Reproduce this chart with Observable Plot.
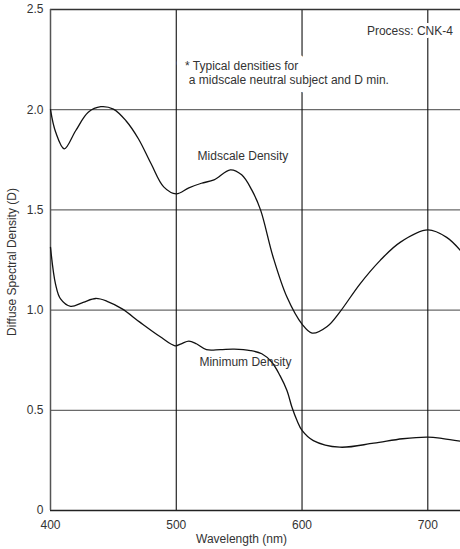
<!DOCTYPE html>
<html>
<head>
<meta charset="utf-8">
<script src="https://cdn.jsdelivr.net/npm/d3@7"></script>
<script src="https://cdn.jsdelivr.net/npm/@observablehq/plot@0.6"></script>
<style>
  html, body { margin: 0; padding: 0; background: #fff; }
  #chart { width: 460px; height: 549px; }
</style>
</head>
<body>
<div id="chart"></div>
<script>
// Midscale density curve (wavelength nm, density D)
const midWavelength = [400, 404, 411, 420, 430, 440, 450, 460, 470, 480, 490, 500, 510, 520, 530, 543, 552, 560, 567, 577, 588, 600, 608, 620, 630, 646, 662, 678, 700, 715, 726];
const midDensity    = [2.0, 1.89, 1.805, 1.895, 1.987, 2.015, 2.003, 1.945, 1.854, 1.73, 1.615, 1.58, 1.61, 1.633, 1.65, 1.70, 1.675, 1.60, 1.50, 1.265, 1.065, 0.93, 0.885, 0.918, 0.99, 1.13, 1.247, 1.338, 1.40, 1.363, 1.297];

// Minimum density curve
const minWavelength = [400, 404, 408, 416, 426, 436, 445, 457, 471, 487, 499, 504, 510, 516, 524, 535, 546, 559, 568, 576, 582.5, 588, 592, 596, 600, 609, 630, 657, 680, 700, 712, 726];
const minDensity    = [1.313, 1.13, 1.056, 1.019, 1.039, 1.058, 1.044, 1.006, 0.94, 0.868, 0.822, 0.832, 0.845, 0.832, 0.803, 0.803, 0.805, 0.798, 0.782, 0.74, 0.673, 0.599, 0.515, 0.449, 0.40, 0.349, 0.316, 0.336, 0.358, 0.366, 0.359, 0.346];

// Axes
const xTicks = [400, 500, 600, 700];
const yTicks = [0, 0.5, 1.0, 1.5, 2.0, 2.5];
const yGrid = [0.5, 1.0, 1.5, 2.0];
const xGrid = [500, 600, 700];
const xDomain = [400, 726];
const yDomain = [0, 2.5];
const xLabel = "Wavelength (nm)";
const yLabel = "Diffuse Spectral Density (D)";

// Curve labels
const curveLabels = ["Midscale Density", "Minimum Density"];
const curveLabelX = [553, 555];
const curveLabelY = [1.77, 0.74];

// Notes
const noteText = ["* Typical densities for", "a midscale neutral subject and D min."];
const noteX = [507, 510];
const noteY = [2.215, 2.145];
const processText = "Process: CNK-4";
const processX = 720;
const processY = 2.39;

const mid = midWavelength.map((w, i) => ({w, d: midDensity[i]}));
const mn = minWavelength.map((w, i) => ({w, d: minDensity[i]}));
const labels = curveLabels.map((t, i) => ({t, x: curveLabelX[i], y: curveLabelY[i]}));
const notes = noteText.map((t, i) => ({t, x: noteX[i], y: noteY[i]}));

const chart = Plot.plot({
  width: 460,
  height: 549,
  marginLeft: 50,
  marginRight: 0,
  marginTop: 9,
  marginBottom: 39,
  style: {fontFamily: "'Liberation Sans', Arial, sans-serif", fontSize: "12px", color: "#333", background: "#fff"},
  x: {domain: xDomain},
  y: {domain: yDomain},
  marks: [
    Plot.ruleY(yGrid, {stroke: "#6a6a6a", strokeWidth: 1.2}),
    Plot.ruleX(xGrid, {stroke: "#111", strokeWidth: 1.1}),
    Plot.ruleY([2.5], {stroke: "#333", strokeWidth: 1.3}),
    Plot.ruleY([0], {stroke: "#222", strokeWidth: 1.5}),
    Plot.ruleX([400], {stroke: "#555", strokeWidth: 1.5}),
    // white halos behind the notes
    Plot.text(notes, {x: "x", y: "y", text: "t", textAnchor: "start", fill: "white", stroke: "white", strokeWidth: 16, fontSize: 12}),
    Plot.text([processText], {x: processX, y: processY, text: d => d, textAnchor: "end", fill: "white", stroke: "white", strokeWidth: 6, fontSize: 12}),
    Plot.text(notes, {x: "x", y: "y", text: "t", textAnchor: "start", fill: "#333", fontSize: 12}),
    Plot.text([processText], {x: processX, y: processY, text: d => d, textAnchor: "end", fill: "#333", fontSize: 12}),
    Plot.line(mid, {x: "w", y: "d", curve: "catmull-rom", stroke: "#111", strokeWidth: 1.3}),
    Plot.line(mn, {x: "w", y: "d", curve: "catmull-rom", stroke: "#111", strokeWidth: 1.3}),
    Plot.text(labels, {x: "x", y: "y", text: "t", fill: "#333", fontSize: 12}),
    Plot.axisX(xTicks, {tickSize: 0, tickPadding: 10, label: null, fontSize: 12, fill: "#333"}),
    Plot.axisY(yTicks, {tickSize: 0, tickPadding: 7, label: null, fontSize: 12, fill: "#333",
      tickFormat: d => d === 0 ? "0" : d.toFixed(1)}),
    Plot.text([xLabel], {frameAnchor: "bottom", text: d => d, textAnchor: "middle", lineAnchor: "middle", dy: 29, dx: -14, fill: "#333", fontSize: 12}),
    Plot.text([yLabel], {frameAnchor: "left", text: d => d, textAnchor: "middle", lineAnchor: "middle", rotate: -90, dx: -38, dy: 2, fill: "#333", fontSize: 12})
  ]
});
document.getElementById("chart").appendChild(chart);
</script>
</body>
</html>
